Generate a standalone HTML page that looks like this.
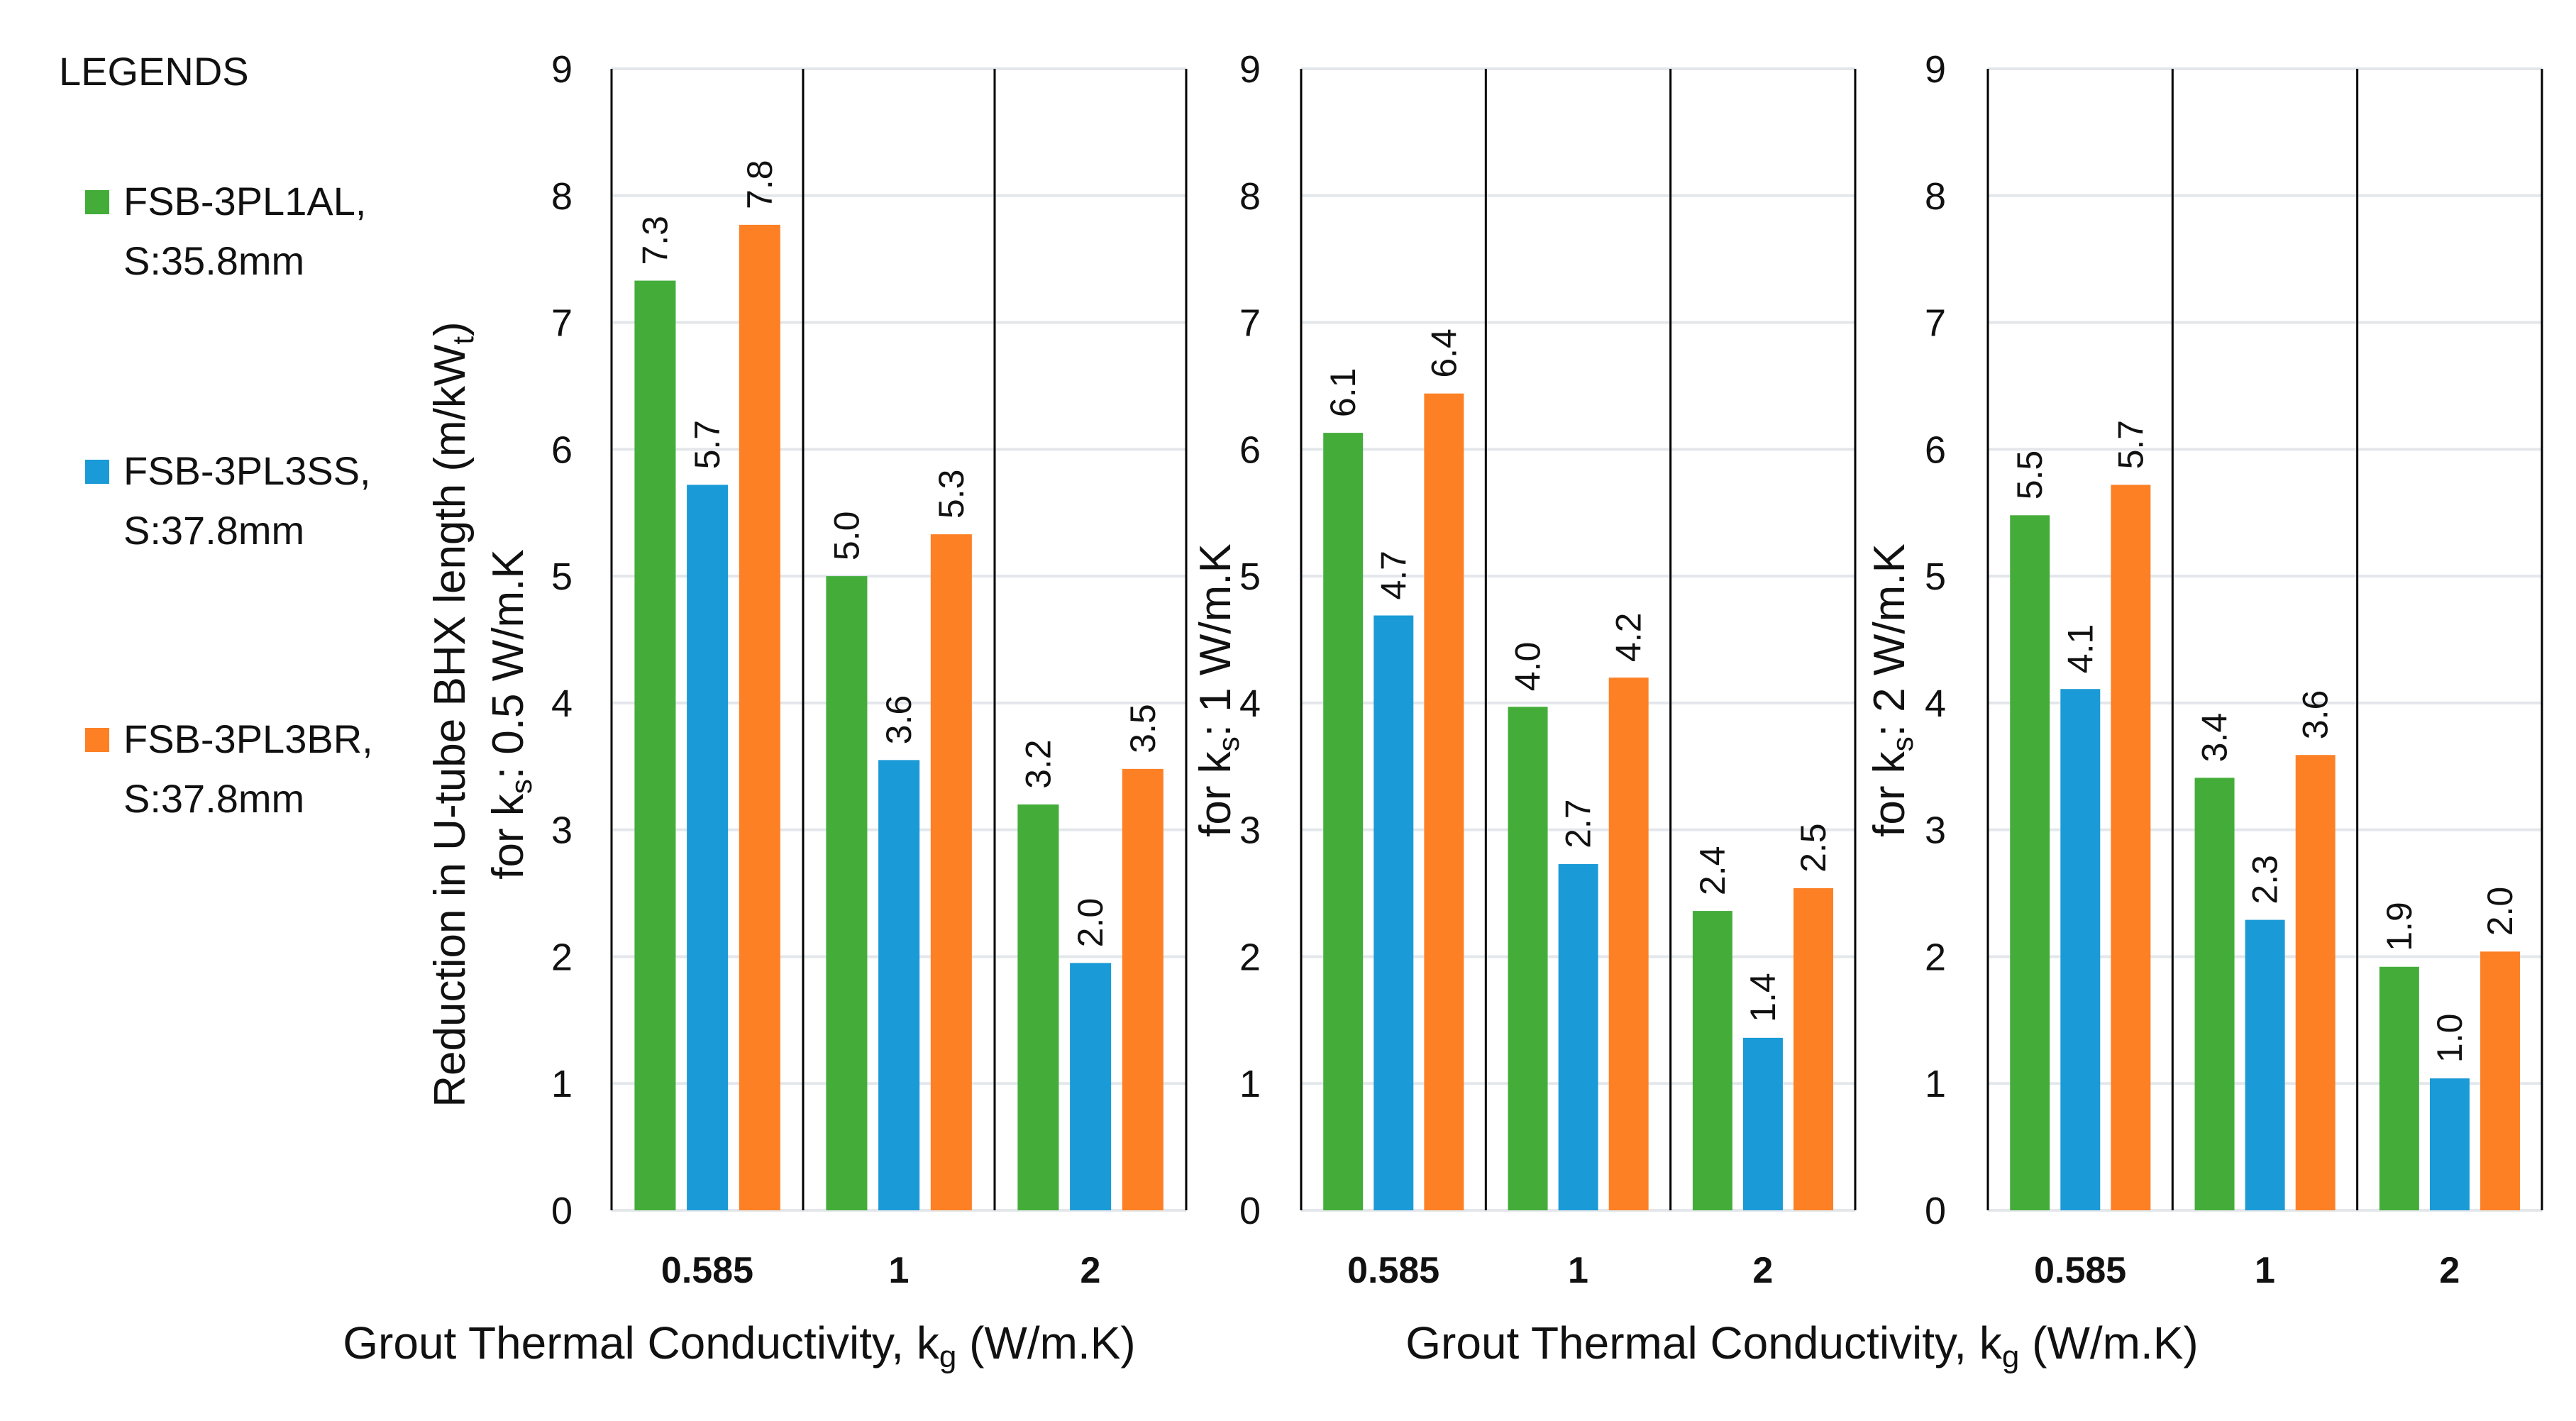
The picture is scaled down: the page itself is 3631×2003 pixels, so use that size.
<!DOCTYPE html>
<html><head><meta charset="utf-8"><style>
html,body{margin:0;padding:0;background:#fff;}
svg{display:block;font-family:"Liberation Sans",sans-serif;}
</style></head><body>
<svg id="chart" width="3631" height="2003" viewBox="0 0 3631 2003" xmlns="http://www.w3.org/2000/svg">
<rect width="3631" height="2003" fill="#fff"/>
<g font-size="56" fill="#111">
<text x="83" y="120">LEGENDS</text>
<rect x="120" y="268" width="34" height="34" fill="#44ad3a"/>
<text x="174" y="303">FSB-3PL1AL,</text>
<text x="174" y="387">S:35.8mm</text>
<rect x="120" y="648" width="34" height="34" fill="#1a9ad6"/>
<text x="174" y="683">FSB-3PL3SS,</text>
<text x="174" y="767">S:37.8mm</text>
<rect x="120" y="1026" width="34" height="34" fill="#fd8025"/>
<text x="174" y="1061">FSB-3PL3BR,</text>
<text x="174" y="1145">S:37.8mm</text>
</g>
<g id="plots"></g>
<g font-size="62" fill="#111">
<text transform="translate(655,1007) rotate(-90)" text-anchor="middle">Reduction in U-tube BHX length (m/kW<tspan font-size="42" dy="12">t</tspan><tspan dy="-12">)</tspan></text>
<text transform="translate(737,1007) rotate(-90)" text-anchor="middle">for k<tspan font-size="42" dy="12">s</tspan><tspan dy="-12">: 0.5 W/m.K</tspan></text>
<text transform="translate(1734,973) rotate(-90)" text-anchor="middle">for k<tspan font-size="42" dy="12">s</tspan><tspan dy="-12">: 1 W/m.K</tspan></text>
<text transform="translate(2684,973) rotate(-90)" text-anchor="middle">for k<tspan font-size="42" dy="12">s</tspan><tspan dy="-12">: 2 W/m.K</tspan></text>
<text x="1042" y="1915" text-anchor="middle" font-size="64">Grout Thermal Conductivity,  k<tspan font-size="44" dy="12">g</tspan><tspan dy="-12"> (W/m.K)</tspan></text>
<text x="2540" y="1915" text-anchor="middle" font-size="64">Grout Thermal Conductivity,  k<tspan font-size="44" dy="12">g</tspan><tspan dy="-12"> (W/m.K)</tspan></text>
</g>
</svg>
<script>
const categories = ["0.585", "1", "2"];
const yTicks = [0,1,2,3,4,5,6,7,8,9];
const seriesNames = ["FSB-3PL1AL","FSB-3PL3SS","FSB-3PL3BR"];
const panel1Values = [[7.33,5.72,7.77],[5.0,3.55,5.33],[3.2,1.95,3.48]];
const panel2Values = [[6.13,4.69,6.44],[3.97,2.73,4.2],[2.36,1.36,2.54]];
const panel3Values = [[5.48,4.11,5.72],[3.41,2.29,3.59],[1.92,1.04,2.04]];
const panelLabels = [["7.3","5.7","7.8"],["5.0","3.6","5.3"],["3.2","2.0","3.5"]];
const panel2Labels = [["6.1","4.7","6.4"],["4.0","2.7","4.2"],["2.4","1.4","2.5"]];
const panel3Labels = [["5.5","4.1","5.7"],["3.4","2.3","3.6"],["1.9","1.0","2.0"]];

const NS="http://www.w3.org/2000/svg";
const colors=["#44ad3a","#1a9ad6","#fd8025"];
const y0=1706, yTop=97, yMax=9;
function yScale(v){return y0-(v/yMax)*(y0-yTop);}
const panels=[
 {x0:862,x1:1672,vals:panel1Values,labs:panelLabels,tickX:792},
 {x0:1834,x1:2615,vals:panel2Values,labs:panel2Labels,tickX:1762},
 {x0:2802,x1:3583,vals:panel3Values,labs:panel3Labels,tickX:2728}
];
const root=document.getElementById('plots');
function mk(tag,attrs,parent){const e=document.createElementNS(NS,tag);for(const k in attrs)e.setAttribute(k,attrs[k]);(parent||root).appendChild(e);return e;}
panels.forEach((p,pi)=>{
 const g=mk('g',{});
 
 
 yTicks.forEach(t=>{
  const y=yScale(t);
  const l=mk('line',{x1:p.x0,x2:p.x1,y1:y,y2:y,stroke:'#e3e7eb','stroke-width':4},g);
  
  
  const tx=mk('text',{x:p.tickX,y:y+19,'text-anchor':'middle','font-size':54,fill:'#111'},g);
  tx.textContent=t;
  
  
 });
 const cw=(p.x1-p.x0)/categories.length;
 for(let c=0;c<=categories.length;c++){
  const x=p.x0+c*cw;
  const l=mk('line',{x1:x,x2:x,y1:yTop,y2:y0,stroke:'#000','stroke-width':3},g);
  
  
 }
 const bw=cw*0.215, gap=cw*0.058, off=cw*0.12;
 categories.forEach((cat,ci)=>{
  const cx=p.x0+ci*cw;
  const lab=mk('text',{x:cx+cw/2,y:1808,'text-anchor':'middle','font-size':52,'font-weight':'bold',fill:'#111'},g);
  lab.textContent=cat;
  
  
  p.vals[ci].forEach((v,si)=>{
   const x=cx+off+si*(bw+gap);
   const yt=yScale(v);
   const r=mk('rect',{x:x,y:yt,width:bw,height:y0-yt,fill:colors[si]},g);
   
   
   const t=mk('text',{transform:'translate('+(x+bw/2+17)+','+(yt-22)+') rotate(-90)','font-size':50,fill:'#111'},g);
   t.textContent=p.labs[ci][si];
   
   
  });
 });
});
</script>
</body></html>
